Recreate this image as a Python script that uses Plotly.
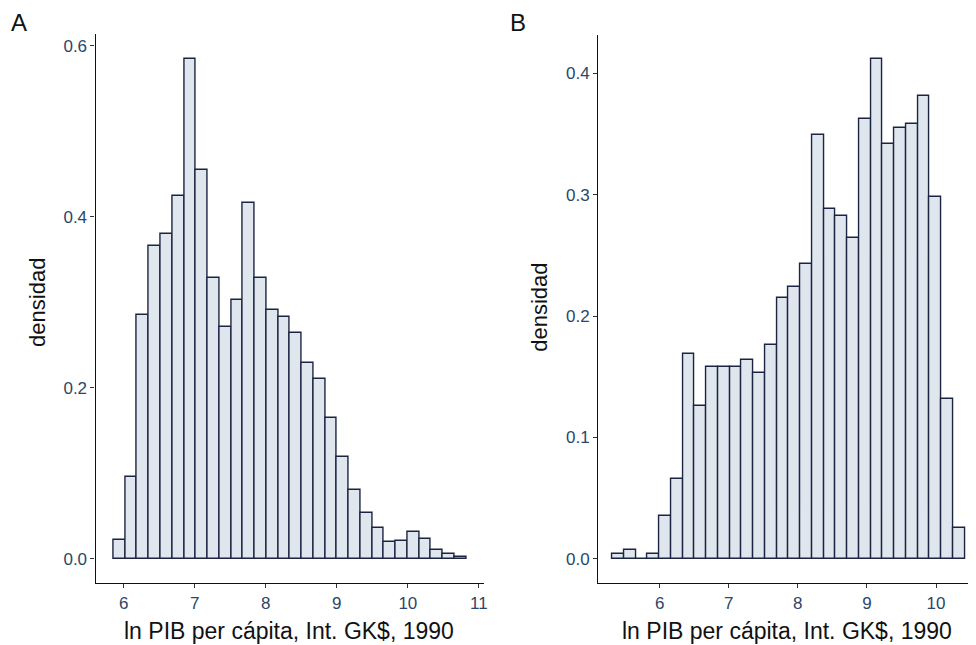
import numpy as np
import plotly.graph_objects as go

# page offset of the plot div (default body margin)
OFF = 8
PAGE_W, PAGE_H = 976, 645
W, H = PAGE_W - OFF, PAGE_H - OFF

# Panel A: ln GDP per capita 1990, density histogram (30 bins)
bin_start_a = 5.856
bin_width_a = 0.1656
dens_a = [0.022, 0.095, 0.285, 0.366, 0.380, 0.424, 0.584, 0.455, 0.328, 0.271,
          0.303, 0.416, 0.328, 0.291, 0.283, 0.264, 0.229, 0.210, 0.165, 0.119,
          0.080, 0.054, 0.036, 0.019, 0.021, 0.031, 0.023, 0.010, 0.006, 0.0025]

# Panel B
bin_start_b = 5.318
bin_width_b = 0.170
dens_b = [0.004, 0.007, 0.0, 0.004, 0.035, 0.066, 0.1685, 0.126, 0.158, 0.158,
          0.158, 0.164, 0.153, 0.176, 0.2147, 0.224, 0.243, 0.349, 0.288, 0.2825,
          0.2646, 0.3625, 0.4117, 0.342, 0.3553, 0.358, 0.3815, 0.2984, 0.1316, 0.0256]

xticks_a = [6, 7, 8, 9, 10, 11]
yticks_a = [0.0, 0.2, 0.4, 0.6]
xticks_b = [6, 7, 8, 9, 10]
yticks_b = [0.0, 0.1, 0.2, 0.3, 0.4]

x_title = "ln PIB per cápita, Int. GK$, 1990"
y_title = "densidad"
panel_labels = ["A", "B"]

FILL = "#dfe6ee"
EDGE = "#1b2440"
TICKCOL = "#2c4668"
FONT = "Liberation Sans, Arial, sans-serif"

fig = go.Figure()

def centers(start, width, n):
    return start + width * (np.arange(n) + 0.5)

fig.add_trace(go.Bar(
    x=centers(bin_start_a, bin_width_a, len(dens_a)), y=dens_a, width=bin_width_a,
    marker=dict(color=FILL, line=dict(color=EDGE, width=1.4)),
    xaxis="x", yaxis="y", showlegend=False))
fig.add_trace(go.Bar(
    x=centers(bin_start_b, bin_width_b, len(dens_b)), y=dens_b, width=bin_width_b,
    marker=dict(color=FILL, line=dict(color=EDGE, width=1.4)),
    xaxis="x2", yaxis="y2", showlegend=False))

def px_x(p):
    return min(1.0, (p - OFF) / W)

def px_y(p):
    return 1 - (p - OFF) / H

axis_common = dict(showline=True, linecolor="#111111", linewidth=1.3,
                   ticks="outside", ticklen=4, tickcolor="#333333", tickwidth=1,
                   showgrid=False, zeroline=False,
                   tickfont=dict(family=FONT, size=17, color=TICKCOL))

fig.update_layout(
    width=W, height=H,
    margin=dict(l=0, r=0, t=0, b=0),
    paper_bgcolor="white", plot_bgcolor="white",
    bargap=0,
    xaxis=dict(domain=[px_x(96), px_x(486)], range=[5.603, 11.073],
               tickvals=xticks_a, anchor="y", **axis_common),
    yaxis=dict(domain=[px_y(583), px_y(34)], range=[-0.0284, 0.6137],
               tickvals=yticks_a, tickformat=".1f", anchor="x", **axis_common),
    xaxis2=dict(domain=[px_x(600.7), 1.0], range=[5.112, 10.52],
                tickvals=xticks_b, anchor="y2", **axis_common),
    yaxis2=dict(domain=[px_y(583.3), px_y(35)], range=[-0.0203, 0.4317],
                tickvals=yticks_b, tickformat=".1f", anchor="x2", **axis_common),
)

ann = []
for lab, x in zip(panel_labels, [19, 520]):
    ann.append(dict(text=lab, x=px_x(x), y=px_y(22), xref="paper", yref="paper",
                    showarrow=False, xanchor="center", yanchor="middle",
                    font=dict(family=FONT, size=24, color="#111111")))
for x in [290, 790]:
    ann.append(dict(text=x_title, x=px_x(x), y=px_y(631), xref="paper", yref="paper",
                    showarrow=False, xanchor="center", yanchor="middle",
                    font=dict(family=FONT, size=23, color="#111111")))
for x, y in [(37, 302), (541, 307)]:
    ann.append(dict(text=y_title, x=px_x(x), y=px_y(y), xref="paper", yref="paper",
                    showarrow=False, xanchor="center", yanchor="middle", textangle=-90,
                    font=dict(family=FONT, size=22, color="#111111")))
fig.update_layout(annotations=ann)

fig.write_html("out.html")
